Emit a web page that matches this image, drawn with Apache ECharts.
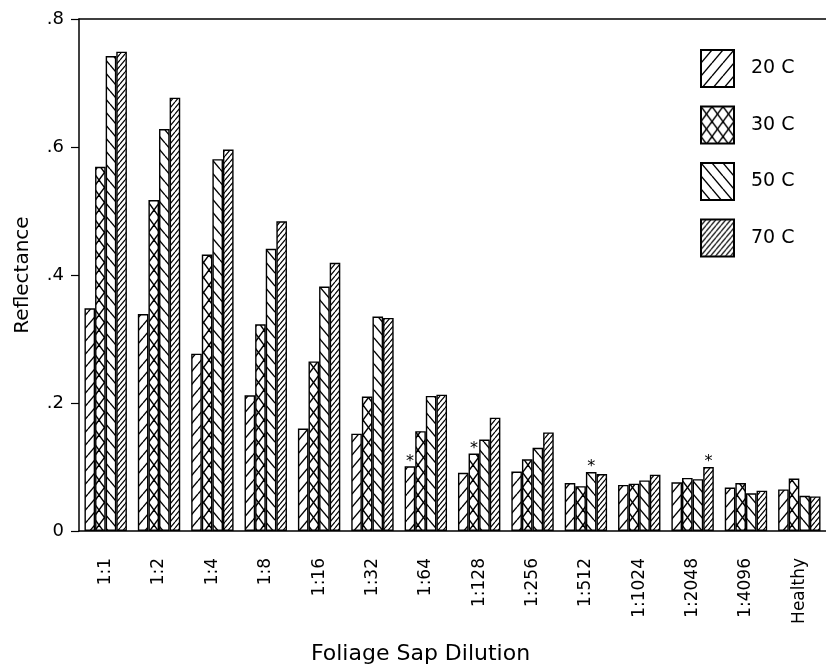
<!DOCTYPE html>
<html>
<head>
<meta charset="utf-8">
<script src="https://cdn.jsdelivr.net/npm/echarts@6/dist/echarts.min.js"></script>
<style>
  html, body { margin: 0; padding: 0; background: #fff; }
  #chart { width: 826px; height: 670px; }
</style>
</head>
<body>
<div id="chart"></div>
<script>
// dilution categories and reflectance per temperature
var dilutions = ['1:1', '1:2', '1:4', '1:8', '1:16', '1:32', '1:64', '1:128', '1:256', '1:512', '1:1024', '1:2048', '1:4096', 'Healthy'];
var temps = ['20 C', '30 C', '50 C', '70 C'];
var refl20 = [0.348, 0.339, 0.277, 0.212, 0.160, 0.152, 0.101, 0.091, 0.093, 0.075, 0.072, 0.076, 0.068, 0.065];
var refl30 = [0.569, 0.517, 0.432, 0.323, 0.265, 0.210, 0.156, 0.121, 0.112, 0.070, 0.074, 0.083, 0.075, 0.082];
var refl50 = [0.742, 0.628, 0.581, 0.441, 0.382, 0.335, 0.211, 0.143, 0.130, 0.092, 0.079, 0.081, 0.059, 0.055];
var refl70 = [0.749, 0.677, 0.596, 0.484, 0.419, 0.333, 0.213, 0.177, 0.154, 0.089, 0.088, 0.100, 0.063, 0.054];
// bars marked with an asterisk (index into dilutions)
var star20 = [6], star30 = [7], star50 = [9], star70 = [11];

var FONT = 'DejaVu Sans';

// hatch pattern tile: w x h, dirs '/' and/or '\'
function hatch(w, h, dirs, lw) {
  var c = document.createElement('canvas');
  c.width = w; c.height = h;
  var g = c.getContext('2d');
  g.fillStyle = '#fff';
  g.fillRect(0, 0, w, h);
  g.strokeStyle = '#000';
  g.lineWidth = lw;
  dirs.forEach(function(d) {
    [-w, 0, w].forEach(function(k) {
      g.beginPath();
      if (d == '/') {
        g.moveTo(k, h); g.lineTo(k + w, 0);
      } else {
        g.moveTo(k, 0); g.lineTo(k + w, h);
      }
      g.stroke();
    });
  });
  return { image: c, repeat: 'repeat' };
}

var fills = [
  hatch(11, 13, ['/'], 1.4),
  hatch(11, 15, ['/', '\\'], 1.4),
  hatch(11, 13, ['\\'], 1.4),
  hatch(5, 6, ['/'], 1.2)
];

function mkData(vals, stars) {
  return vals.map(function(v, i) {
    if (stars.indexOf(i) >= 0) {
      return { value: v, label: { show: true, position: 'top', formatter: '*', distance: -3, fontSize: 16, color: '#000', fontFamily: FONT } };
    }
    return v;
  });
}

var allVals = [refl20, refl30, refl50, refl70];
var allStars = [star20, star30, star50, star70];

var series = temps.map(function(t, k) {
  return {
    name: t,
    type: 'bar',
    barWidth: 10.6,
    barGap: '0%',
    data: mkData(allVals[k], allStars[k]),
    itemStyle: { color: fills[k], borderColor: '#000', borderWidth: 1.4 },
    emphasis: { disabled: true }
  };
});

var myChart = echarts.init(document.getElementById('chart'));
var option = {
  backgroundColor: '#fff',
  animation: false,
  grid: { left: 79, right: 0, top: 19, bottom: 130 },
  legend: {
    orient: 'vertical',
    left: 695,
    top: 44,
    itemWidth: 33,
    itemHeight: 37,
    itemGap: 17.5,
    icon: 'rect',
    data: temps,
    textStyle: { fontFamily: FONT, fontSize: 19, color: '#000', padding: [0, 0, 0, 12] }
  },
  xAxis: [{
    type: 'category',
    data: dilutions,
    name: 'Foliage Sap Dilution',
    nameLocation: 'middle',
    nameGap: 112,
    nameTextStyle: { fontFamily: FONT, fontSize: 22, color: '#000', padding: [0, 64, 0, 0] },
    axisLine: { lineStyle: { color: '#000', width: 1.5 } },
    axisTick: { alignWithLabel: true, length: 10, lineStyle: { color: '#000', width: 1.2 } },
    axisLabel: { rotate: 90, margin: 27, fontFamily: FONT, fontSize: 17, color: '#000', interval: 0 }
  }, {
    type: 'category',
    data: dilutions,
    position: 'top',
    axisLine: { lineStyle: { color: '#000', width: 1.5 } },
    axisTick: { show: false },
    axisLabel: { show: false }
  }],
  yAxis: {
    type: 'value',
    min: 0,
    max: 0.8,
    interval: 0.2,
    name: 'Reflectance',
    nameLocation: 'middle',
    nameGap: 46,
    nameTextStyle: { fontFamily: FONT, fontSize: 20, color: '#000' },
    axisLine: { show: true, lineStyle: { color: '#000', width: 1.5 } },
    axisTick: { show: true, length: 8, lineStyle: { color: '#000', width: 1.2 } },
    splitLine: { show: false },
    axisLabel: {
      margin: 15,
      fontFamily: FONT,
      fontSize: 18,
      color: '#000',
      formatter: function(v) {
        if (v == 0) return '0';
        return v.toFixed(1).replace('0.', '.');
      }
    }
  },
  series: series
};
myChart.setOption(option);
</script>
</body>
</html>
